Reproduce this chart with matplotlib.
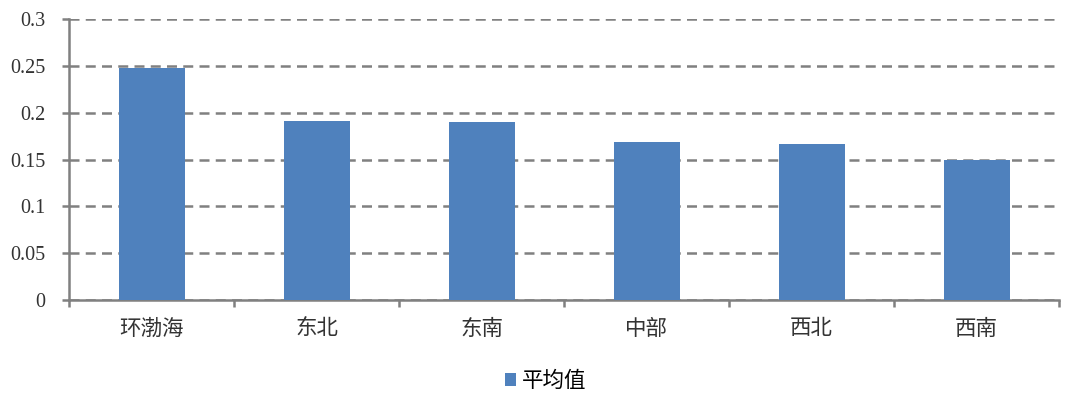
import numpy as np
import matplotlib.pyplot as plt
from matplotlib.ticker import FixedLocator

plt.rcParams['font.family'] = ['Liberation Serif', 'Noto Sans CJK SC', 'DejaVu Sans']

regions = ['环渤海', '东北', '东南', '中部', '西北', '西南']
avg_values = [0.248, 0.1915, 0.1908, 0.1687, 0.1665, 0.150]
series_name = '平均值'

fig = plt.figure(figsize=(10.8, 4.01), dpi=100)
ax = fig.add_axes([0.0639, 0.2519, 0.9167, 0.6995])

x = np.arange(len(regions))
ax.bar(x, avg_values, width=0.4, color='#4F81BD', label=series_name, zorder=3)

ax.set_xlim(-0.5, len(regions) - 0.5)
ax.set_ylim(0, 0.3)
ax.set_yticks(np.arange(0, 0.301, 0.05))
ax.set_yticklabels(['0', '0.05', '0.1', '0.15', '0.2', '0.25', '0.3'])
ax.yaxis.grid(True, linestyle=(0, (4, 2.5)), color='#808080', linewidth=1.8, zorder=0)

# category ticks at boundaries, labels at centres
ax.xaxis.set_major_locator(FixedLocator(np.arange(-0.5, len(regions), 1.0)))
ax.set_xticklabels([])
ax.set_xticks(x, minor=True)
ax.set_xticklabels(regions, minor=True)
ax.tick_params(axis='x', which='major', length=5, width=1.8, color='#808080', direction='out')
ax.tick_params(axis='x', which='minor', length=0, pad=14, labelsize=15.5, labelcolor='#333333')
ax.tick_params(axis='y', length=5, width=1.8, color='#808080', labelsize=14.5, labelcolor='#333333', pad=12)

for side in ['top', 'right']:
    ax.spines[side].set_visible(False)
for side in ['left', 'bottom']:
    ax.spines[side].set_color('#808080')
    ax.spines[side].set_linewidth(1.8)

fig.legend(loc='center', bbox_to_anchor=(0.505, 0.047), frameon=False, fontsize=15.5,
           handlelength=0.55, handleheight=0.55, handletextpad=0.25)

fig.savefig('out.png', dpi=100, facecolor='white')
